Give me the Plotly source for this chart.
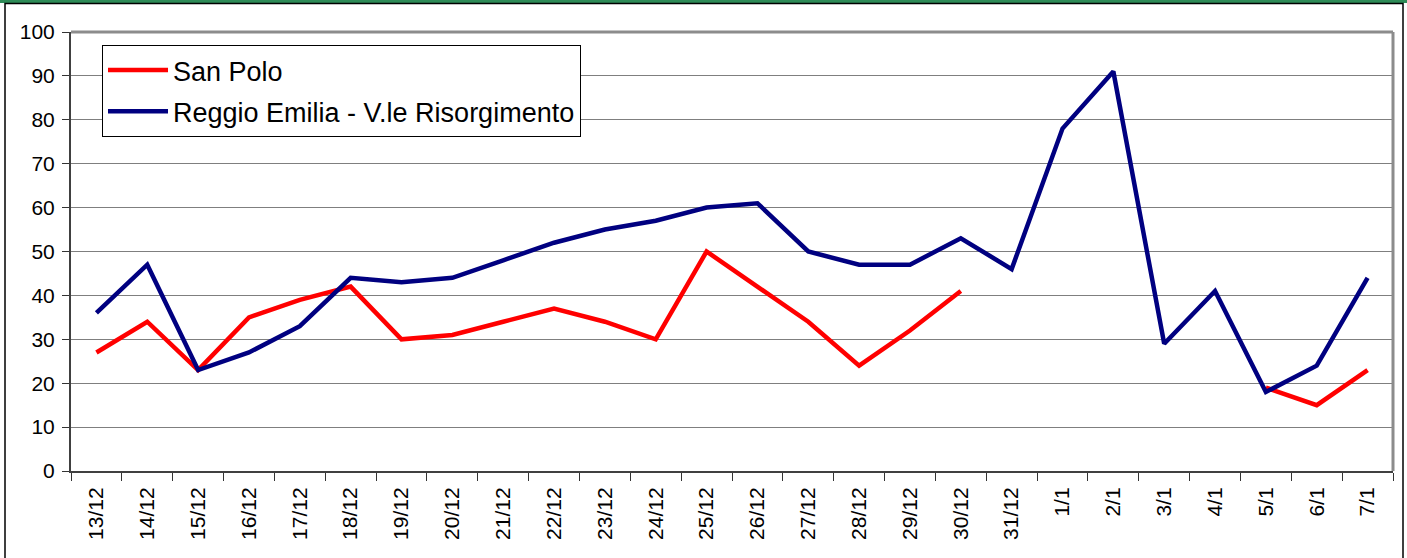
import plotly.graph_objects as go

dates = ["13/12", "14/12", "15/12", "16/12", "17/12", "18/12", "19/12", "20/12",
         "21/12", "22/12", "23/12", "24/12", "25/12", "26/12", "27/12", "28/12",
         "29/12", "30/12", "31/12", "1/1", "2/1", "3/1", "4/1", "5/1", "6/1", "7/1"]
san_polo = [27, 34, 23, 35, 39, 42, 30, 31, 34, 37, 34, 30, 50, 42, 34, 24,
            32, 41, None, None, None, None, None, 19, 15, 23]
reggio = [36, 47, 23, 27, 33, 44, 43, 44, 48, 52, 55, 57, 60, 61, 50, 47,
          47, 53, 46, 78, 91, 29, 41, 18, 24, 44]
y_ticks = list(range(0, 101, 10))

FONT = "Arial, Liberation Sans, sans-serif"

fig = go.Figure()
fig.add_trace(go.Scatter(x=dates, y=san_polo, mode="lines", name="San Polo",
                         legendgroup="a",
                         line=dict(color="#FF0000", width=4.5), connectgaps=False))
fig.add_trace(go.Scatter(x=dates, y=reggio, mode="lines",
                         name="Reggio Emilia - V.le Risorgimento",
                         legendgroup="b",
                         line=dict(color="#000080", width=4.5)))

W, H = 1407, 558
L, R, T, B = 71, 14, 32, 87
pw, ph = W - L - R, H - T - B


def px2x(px):
    return (px - L) / pw


def px2y(py):
    return (H - B - py) / ph


shapes = [
    # green strip on top
    dict(type="rect", xref="paper", yref="paper", x0=px2x(-10), x1=px2x(W + 10),
         y0=px2y(3), y1=px2y(-10), fillcolor="#2E8B57", line=dict(width=0),
         layer="below"),
    # outer frame
    dict(type="rect", xref="paper", yref="paper", x0=px2x(5), x1=px2x(1403),
         y0=px2y(H + 20), y1=px2y(3.5), line=dict(color="#000000", width=1.5),
         fillcolor="rgba(0,0,0,0)"),
    # plot area top and right border (gray)
    dict(type="line", xref="paper", yref="paper", x0=0, x1=1.0, y0=1, y1=1,
         line=dict(color="#8C8C8C", width=3)),
    dict(type="line", xref="paper", yref="paper", x0=1.0, x1=1.0, y0=0, y1=1,
         line=dict(color="#8C8C8C", width=3)),
]

fig.update_layout(
    width=W, height=H,
    margin=dict(l=L, r=R, t=T, b=B, autoexpand=False),
    paper_bgcolor="white", plot_bgcolor="white",
    font=dict(family=FONT, color="black", size=21),
    shapes=shapes,
    showlegend=True,
    legend=dict(
        x=px2x(102), y=px2y(45), xanchor="left", yanchor="top",
        bgcolor="white", bordercolor="#000000", borderwidth=1,
        font=dict(family=FONT, size=27, color="black"),
        itemwidth=60, tracegroupgap=3,
    ),
    xaxis=dict(
        type="category", categoryorder="array", categoryarray=dates,
        tickvals=dates, ticktext=dates, tickangle=-90,
        tickson="boundaries", ticks="outside", ticklen=8, tickwidth=1,
        tickcolor="#333333", ticklabelstandoff=6,
        showline=True, linecolor="#404040", linewidth=2,
        showgrid=False, tickfont=dict(size=21, family=FONT),
        range=[-0.5, len(dates) - 0.5],
    ),
    yaxis=dict(
        range=[0, 100], tickvals=y_ticks, ticks="outside", ticklen=7,
        tickwidth=1, tickcolor="#333333", ticklabelstandoff=3,
        showline=True, linecolor="#404040", linewidth=2,
        showgrid=True, gridcolor="#7F7F7F", gridwidth=1,
        zeroline=False, tickfont=dict(size=21, family=FONT),
    ),
)

fig.write_html(
    "out.html",
    config={"displayModeBar": False},
    post_script="document.body.style.margin='0';document.body.style.overflow='hidden';",
)
